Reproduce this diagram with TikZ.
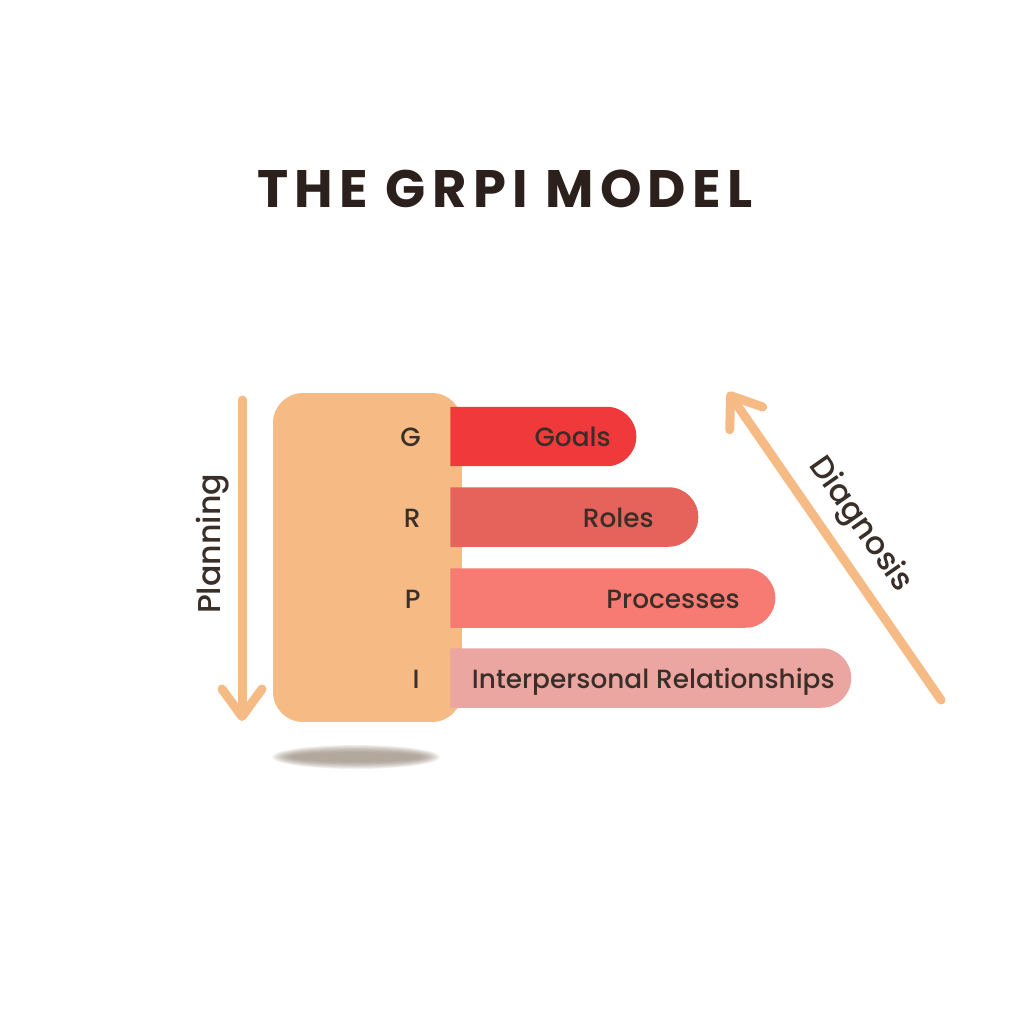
\documentclass[tikz,border=0pt]{standalone}
\usepackage{fontspec}
\setmainfont{Poppins}
\newfontfamily\titlefont[LetterSpace=12]{Poppins}
\newfontfamily\lblfont{Poppins Medium}
\usetikzlibrary{positioning, shapes.misc, arrows.meta}
\definecolor{boxFill}    {RGB}{246,186,133}
\definecolor{goalsFill}  {RGB}{240, 57, 59}
\definecolor{rolesFill}  {RGB}{229, 99, 90}
\definecolor{procFill}   {RGB}{248,123,115}
\definecolor{interFill}  {RGB}{235,166,162}
\definecolor{textDark}   {RGB}{ 58, 46, 40}
\definecolor{titleDark}  {RGB}{ 43, 32, 28}
\definecolor{shadowGray} {RGB}{150,135,120}
\tikzset{
  %% tall letter column
  letterbox/.style={
    rectangle, rounded corners=0.6cm,
    minimum width=3.78cm, minimum height=6.58cm,
    inner sep=0pt, fill=boxFill
  },
  %% bar with a round right end
  bar/.style={
    rounded rectangle, rounded rectangle west arc=none,
    minimum height=1.19cm, inner sep=0pt, anchor=west
  },
  lbl/.style={
    font=\lblfont\fontsize{15}{18}\selectfont, text=textDark,
    inner sep=0pt
  },
  %% larger label beside an arrow
  lblA/.style={
    font=\lblfont\fontsize{18}{21}\selectfont, text=textDark,
    inner sep=0pt
  },
  ttl/.style={
    font=\titlefont\bfseries\fontsize{30}{36}\selectfont,
    text=titleDark, inner sep=0pt
  },
  %% soft shadow layer
  shade/.style={
    fill=shadowGray, opacity=0.11
  },
  %% thick orange arrow
  arrO/.style={
    -{Straight Barb[length=0.55cm, width=0.8cm, round]},
    line width=0.18cm, line cap=round, color=boxFill
  }
}
\begin{document}
\begin{tikzpicture}[x=0.02cm, y=-0.02cm]

\useasboundingbox[fill=white] (0,0) rectangle (1024,1024);

%% ═══════════════════════════════════════════════════════════
%%  TITLE
%% ═══════════════════════════════════════════════════════════

\node[ttl, anchor=base] (title) at (505,207) {THE GRPI MODEL};

%% ═══════════════════════════════════════════════════════════
%%  SHADOW + LETTER COLUMN
%% ═══════════════════════════════════════════════════════════

\foreach \k in {0,...,9}
  \path[shade] (356,757) ellipse ({84-\k*2} and {12-\k*0.8});

\node[letterbox] (col) at (367.5,557.5) {};

%% ═══════════════════════════════════════════════════════════
%%  BARS
%% ═══════════════════════════════════════════════════════════

\node[bar, fill=goalsFill, minimum width=3.72cm] (goals) at (450,436.5) {};
\node[bar, fill=rolesFill, minimum width=4.96cm] (roles) at (450,517) {};
\node[bar, fill=procFill,  minimum width=6.50cm] (proc)  at (450,598) {};
\node[bar, fill=interFill, minimum width=8.02cm] (inter) at (450,678) {};

%% letters in the column
\node[lbl, anchor=base east] (letG) at (421,446) {G};
\node[lbl, anchor=base east] (letR) at (421,527) {R};
\node[lbl, anchor=base east] (letP) at (421,608) {P};
\node[lbl, anchor=base east] (letI) at (420,688) {I};

%% bar labels
\node[lbl, anchor=base east] (goalsTxt) at (611,446) {Goals};
\node[lbl, anchor=base east] (rolesTxt) at (654,527) {Roles};
\node[lbl, anchor=base east] (procTxt)  at (740,608) {Processes};
\node[lbl, anchor=base east] (interTxt) at (835,688) {Interpersonal Relationships};

%% ═══════════════════════════════════════════════════════════
%%  PLANNING / DIAGNOSIS ARROWS
%% ═══════════════════════════════════════════════════════════

\coordinate (planStart) at (242,400);
\coordinate (planEnd)   at (242,721);
\draw[arrO] (planStart) -- (planEnd);
\node[lblA, rotate=90] (planTxt) at (213,544) {Planning};

\coordinate (diagStart) at (941,700);
\coordinate (diagEnd)   at (728,392);
\draw[arrO] (diagStart) -- (diagEnd);
\node[lblA, rotate=-55.1] (diagTxt) at (860,525) {Diagnosis};

\end{tikzpicture}
\end{document}
